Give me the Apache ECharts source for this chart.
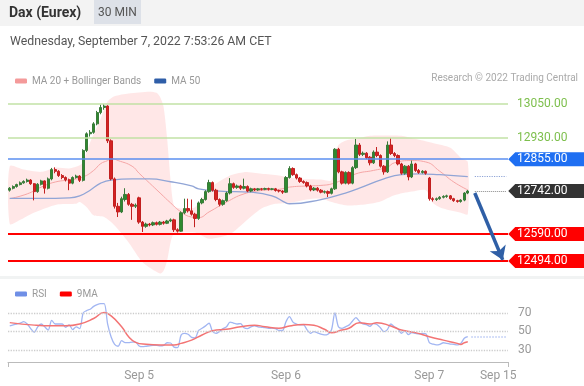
<!DOCTYPE html>
<html><head><meta charset="utf-8">
<script src="https://cdn.jsdelivr.net/npm/echarts@6/dist/echarts.min.js"></script>
<style>html,body{margin:0;padding:0;background:#fff}#c{width:584px;height:386px}</style>
</head><body><div id="c"></div>
<script>
// ---- data ----
const tickIndex = [37, 79, 120, 142];
const tickLabels = ['Sep 5', 'Sep 6', 'Sep 7', 'Sep 15'];
// [open, close, low, high]
const candles = [
[12745,12752,12740,12756],[12752,12758,12748,12762],[12758,12765,12754,12768],[12765,12771,12762,12776],
[12771,12776,12768,12780],[12776,12781,12772,12786],[12781,12768,12764,12784],[12768,12740,12709,12770],
[12740,12766,12736,12770],[12766,12778,12762,12782],[12778,12752,12733,12780],[12752,12785,12748,12790],
[12785,12818,12780,12824],[12818,12812,12805,12826],[12812,12797,12792,12816],[12797,12790,12784,12802],
[12790,12782,12776,12794],[12782,12770,12745,12786],[12770,12790,12766,12794],[12790,12795,12786,12800],
[12795,12780,12774,12798],[12780,12886,12776,12890],[12886,12945,12880,12950],[12945,12950,12935,12958],
[12950,12980,12945,12986],[12980,13020,12975,13026],[13020,13038,13014,13048],[13038,13043,13030,13050],
[13043,12920,12912,13046],[12920,12785,12780,12925],[12785,12688,12680,12790],[12688,12668,12650,12700],
[12668,12715,12664,12722],[12712,12730,12705,12752],[12730,12695,12690,12735],[12695,12688,12640,12700],
[12688,12692,12682,12698],[12718,12632,12626,12722],[12632,12617,12597,12636],[12617,12625,12612,12630],
[12625,12622,12617,12629],[12622,12630,12618,12634],[12630,12624,12620,12634],[12624,12632,12620,12636],
[12632,12628,12623,12636],[12628,12636,12625,12640],[12636,12640,12632,12645],[12640,12605,12597,12644],
[12605,12600,12595,12610],[12600,12665,12598,12670],[12665,12680,12660,12715],[12680,12672,12666,12715],
[12672,12660,12655,12712],[12660,12645,12614,12665],[12645,12700,12640,12705],[12700,12712,12695,12718],
[12712,12740,12708,12745],[12740,12772,12736,12782],[12772,12745,12740,12776],[12745,12712,12706,12750],
[12712,12695,12688,12716],[12695,12708,12690,12712],[12708,12735,12704,12740],[12735,12768,12730,12788],
[12768,12755,12750,12772],[12755,12760,12750,12765],[12760,12752,12746,12764],[12752,12758,12748,12786],
[12758,12742,12738,12762],[12742,12750,12738,12754],[12750,12746,12742,12753],[12746,12750,12743,12753],
[12750,12748,12744,12753],[12748,12751,12745,12754],[12751,12748,12744,12754],[12748,12750,12745,12753],
[12750,12744,12740,12753],[12744,12742,12737,12747],[12742,12738,12732,12745],[12738,12790,12735,12795],
[12790,12822,12786,12830],[12822,12800,12796,12826],[12800,12788,12783,12804],[12788,12776,12771,12792],
[12776,12772,12768,12780],[12772,12760,12755,12776],[12760,12746,12741,12764],[12746,12752,12742,12756],
[12752,12745,12740,12756],[12745,12738,12734,12749],[12738,12740,12733,12744],[12740,12734,12721,12744],
[12734,12750,12730,12754],[12750,12890,12746,12894],[12890,12810,12805,12895],[12810,12770,12765,12814],
[12770,12808,12766,12812],[12808,12770,12765,12812],[12770,12825,12766,12830],[12825,12905,12820,12927],
[12905,12872,12866,12912],[12872,12876,12866,12882],[12876,12860,12855,12880],[12862,12842,12833,12866],
[12842,12880,12838,12886],[12880,12868,12862,12898],[12868,12830,12825,12872],[12830,12810,12800,12834],
[12810,12905,12806,12918],[12905,12875,12870,12930],[12875,12868,12862,12880],[12868,12838,12833,12872],
[12838,12805,12800,12842],[12805,12830,12800,12834],[12830,12792,12780,12834],[12792,12838,12788,12850],
[12838,12815,12810,12842],[12815,12808,12803,12820],[12808,12812,12804,12816],[12812,12805,12800,12815],
[12788,12715,12708,12792],[12715,12712,12705,12720],[12712,12715,12707,12719],[12715,12720,12711,12724],
[12720,12723,12716,12727],[12723,12725,12718,12729],[12725,12715,12711,12728],[12715,12708,12704,12718],
[12708,12705,12701,12711],[12705,12710,12701,12713],[12710,12735,12706,12738],[12735,12742,12731,12746]
];
const padCount = 11;
// [candle index, value]
const bbUpper = [[0,12830],[4,12818],[9,12810],[13,12825],[17,12822],[20,12833],[21,12845],[23,12915],[26,12998],
[28,13060],[30,13078],[34,13088],[40,13094],[42,13090],[43,13075],[44,13040],[45,12930],[46,12780],[47,12690],
[49,12680],[53,12685],[57,12750],[63,12797],[67,12809],[72,12803],[77,12797],[80,12790],[83,12785],[89,12783],
[92,12780],[93,12870],[94,12905],[96,12920],[99,12927],[103,12938],[107,12939],[112,12938],[116,12927],
[121,12912],[126,12895],[129,12860],[131,12845]];
const bbLower = [[0,12625],[3,12640],[6,12660],[10,12680],[14,12695],[19,12697],[20,12703],[22,12685],[24,12656],
[27,12650],[30,12620],[34,12560],[38,12490],[43,12450],[44,12460],[45,12495],[46,12560],[47,12590],[53,12595],
[57,12573],[63,12590],[67,12630],[72,12680],[76,12697],[80,12700],[85,12712],[89,12715],[93,12700],[97,12691],
[102,12695],[106,12705],[110,12727],[115,12740],[119,12745],[121,12700],[124,12680],[129,12665],[131,12660]];
const ma20 = [[0,12715],[5,12732],[9,12756],[13,12774],[18,12783],[21,12792],[24,12815],[26,12839],[28,12850],
[29,12857],[31,12850],[35,12830],[37,12805],[40,12770],[43,12735],[46,12700],[49,12668],[52,12650],[54,12648],
[57,12668],[62,12703],[67,12732],[72,12744],[77,12748],[80,12756],[85,12760],[89,12762],[93,12771],[99,12803],
[104,12815],[108,12827],[110,12842],[115,12850],[119,12845],[123,12812],[127,12774],[131,12746]];
const ma50 = [[0,12716],[9,12716],[17,12718],[20,12725],[23,12745],[26,12770],[29,12781],[35,12785],[40,12785],
[46,12775],[52,12760],[54,12750],[60,12742],[69,12738],[75,12725],[79,12700],[80,12697],[89,12712],[96,12735],
[100,12752],[107,12785],[112,12800],[117,12803],[123,12800],[131,12793]];
const rsi = [56,57,58,59,60.5,58,53,49,55,58,55,51.5,62,58,58,58,54.5,57,52,55,53,70,72.5,74,77,79,80,80,58,44,
36,34,40,38,38,38.5,38.5,34.3,33.5,34,34.5,35,35,34.5,35,37.8,37.5,33,32.5,46,48,47,43.6,43,51,53.4,56,58.8,50,48,
50,53,55,60,59,58,58.5,54,53,55,56,55,54.5,54,53.4,53.5,53,51,51,60.5,66,60,58,57,57,52,48,49.7,48.5,47,46.2,47,
51.5,70,55,53.4,55,56.8,61,65,61,58,57.4,55.5,58.5,57.5,54,49.7,52,58,55,53,48,50.8,46.5,48.7,48,47.3,48,47.5,
38,36.4,35.4,36,37.8,37,36.4,36,35.4,37,42.6,44.3];
const rsiMA = [[0,59.5],[7,56.8],[12,56],[16,56],[20,58],[24,64],[27,70.3],[29,66.7],[32,55],[34,44.3],[36,38.2],
[39,36.1],[43,35.4],[47,35.4],[49,37.1],[52,40.6],[55,46.2],[58,50.8],[62,52.3],[66,55],[70,56.8],[73,55],[77,53.4],
[80,55.9],[84,57.6],[87,56.6],[90,52.3],[92,48.7],[95,51.5],[97,53.4],[100,59.4],[103,58],[105,59.4],[109,55.9],
[112,51.5],[116,48.7],[120,44.3],[124,40.6],[128,37.1],[129,36],[130,37.8],[131,38.9]];
const resistanceLevels = [13050, 12930];
const pivotLevel = [12855];
const lastPrice = [12742];
const supportLevels = [12590, 12494];
const rsiLevels = [70, 50, 30];
const targetLevel = 12494;

// ---- chart ----
const N = candles.length + padCount;
const categories = Array.from({length: N}, (_, i) => String(i));
const lastCat = categories[N - 1];
const lastIdx = candles.length - 1;
const lastRsi = rsi[lastIdx];
const lastMa50 = ma50[ma50.length - 1][1];

const FONT = 'Roboto, "Liberation Sans", sans-serif';
const tagPath = 'path://M0,7L7,0L76,0L76,14L7,14Z';
function tag(v, bg, fg) {
  return {
    coord: [lastCat, v], value: v,
    symbol: bg ? tagPath : 'rect', symbolSize: [76, 14], symbolOffset: [40, 0],
    itemStyle: {color: bg || 'rgba(0,0,0,0)'},
    label: {show: true, position: 'inside', offset: [-4, 0], color: fg, fontSize: 12, fontFamily: FONT,
      formatter: p => Number(p.value).toFixed(2)}
  };
}
const tags = []
  .concat(resistanceLevels.map(v => tag(v, null, '#7dbf4c')))
  .concat(pivotLevel.map(v => tag(v, '#1f6ff2', '#fff')))
  .concat(lastPrice.map(v => tag(v, '#333333', '#fff')))
  .concat(supportLevels.map(v => tag(v, '#ff0000', '#fff')));

const levelLines = []
  .concat(resistanceLevels.map(v => ({yAxis: v, lineStyle: {color: '#c2e2a6', width: 1.5, type: 'solid'}})))
  .concat(pivotLevel.map(v => ({yAxis: v, lineStyle: {color: '#5b8ff0', width: 1.5, type: 'solid'}})))
  .concat(supportLevels.map(v => ({yAxis: v, lineStyle: {color: '#ff0000', width: 2, type: 'solid'}})));

const extLines = [
  [{coord: [String(lastIdx + 2), lastPrice[0]]}, {coord: [lastCat, lastPrice[0]], lineStyle: {color: '#888', type: 'dotted', width: 1}}],
  [{coord: [String(lastIdx + 2), lastMa50]}, {coord: [lastCat, lastMa50], lineStyle: {color: '#8fa4d6', type: 'dotted', width: 1.2}}],
  [{coord: [String(lastIdx + 2), lastPrice[0] - 7], symbol: 'none'},
   {coord: [String(N - 2), targetLevel + 4], symbol: 'arrow', symbolSize: 13,
    lineStyle: {color: '#2f5fa6', width: 3.5, type: 'solid'}}]
];

const option = {
  animation: false,
  textStyle: {fontFamily: FONT},
  graphic: [
    {type: 'rect', shape: {x: 0, y: 0, width: 584, height: 26}, style: {fill: '#f3f3f3'}},
    {type: 'rect', shape: {x: 94, y: 0, width: 47, height: 24}, style: {fill: '#dde1e8'}},
    {type: 'text', style: {x: 9, y: 13, text: 'Dax (Eurex)', font: 'bold 14px ' + FONT, fill: '#333', verticalAlign: 'middle'}},
    {type: 'text', style: {x: 117.5, y: 12.5, text: '30 MIN', font: '12px ' + FONT, fill: '#555', align: 'center', verticalAlign: 'middle'}},
    {type: 'text', style: {x: 10, y: 42, text: 'Wednesday, September 7, 2022 7:53:26 AM CET', font: '12.3px ' + FONT, fill: '#555', verticalAlign: 'middle'}},
    {type: 'text', style: {x: 578, y: 78, text: 'Research © 2022 Trading Central', font: '10px ' + FONT, fill: '#aaa', align: 'right', verticalAlign: 'middle'}},
    {type: 'rect', shape: {x: 0, y: 276, width: 584, height: 3}, style: {fill: '#f1f3f3'}}
  ],
  legend: [
    {left: 10, top: 71, itemWidth: 12, itemHeight: 5, itemGap: 13, icon: 'roundRect',
     textStyle: {color: '#999', fontSize: 10, fontFamily: FONT},
     data: [{name: 'MA 20 + Bollinger Bands', itemStyle: {color: '#f49a9a'}}, {name: 'MA 50', itemStyle: {color: '#2f5ea8'}}]},
    {left: 10, top: 284, itemWidth: 12, itemHeight: 5, itemGap: 13, icon: 'roundRect',
     textStyle: {color: '#999', fontSize: 10, fontFamily: FONT},
     data: [{name: 'RSI', itemStyle: {color: '#6f8fe6'}}, {name: '9MA', itemStyle: {color: '#ff0000'}}]}
  ],
  grid: [
    {left: 8, right: 76, top: 90, height: 188},
    {left: 8, right: 76, top: 299, height: 63}
  ],
  xAxis: [
    {type: 'category', gridIndex: 0, data: categories, boundaryGap: true, show: false},
    {type: 'category', gridIndex: 1, data: categories, boundaryGap: true,
     axisLine: {show: true, lineStyle: {color: '#bbb', width: 1}},
     axisTick: {show: true, interval: i => i === 0, length: 5, lineStyle: {color: '#bbb'}},
     axisLabel: {show: true, color: '#999', fontSize: 12, margin: 8, fontFamily: FONT,
       interval: i => tickIndex.includes(i),
       formatter: (v, i) => {
         const k = tickIndex.indexOf(i);
         if (k < 0) return '';
         return k === tickIndex.length - 1 ? '{r|' + tickLabels[k] + '}' : tickLabels[k];
       },
       rich: {r: {color: '#999', fontSize: 12, fontFamily: FONT, padding: [0, 16, 0, 0]}}}}
  ],
  yAxis: [
    {type: 'value', gridIndex: 0, min: 12434, max: 13100, show: false, splitLine: {show: false}},
    {type: 'value', gridIndex: 1, min: 17, max: 85, show: false, splitLine: {show: false}}
  ],
  series: [
    {type: 'custom', name: 'band', xAxisIndex: 0, yAxisIndex: 0, z: 1, silent: true, clip: true,
     data: [[0, bbUpper[0][1]]],
     renderItem: (params, api) => {
       const pts = bbUpper.map(p => api.coord([p[0], p[1]]))
         .concat(bbLower.slice().reverse().map(p => api.coord([p[0], p[1]])));
       return {type: 'polygon', shape: {points: pts, smooth: 0.25}, style: {fill: 'rgba(255,170,170,0.28)', stroke: 'none'}};
     }},
    {type: 'line', name: 'MA 20 + Bollinger Bands', xAxisIndex: 0, yAxisIndex: 0, data: ma20, smooth: true,
     symbol: 'none', lineStyle: {color: '#f5a5a5', width: 1}, itemStyle: {color: '#f49a9a'}, z: 2},
    {type: 'line', name: 'MA 50', xAxisIndex: 0, yAxisIndex: 0, data: ma50, smooth: true,
     symbol: 'none', lineStyle: {color: '#91a5d6', width: 1.3}, itemStyle: {color: '#2f5ea8'}, z: 2},
    {type: 'candlestick', name: 'price', xAxisIndex: 0, yAxisIndex: 0, data: candles, barWidth: 2.8, z: 3,
     itemStyle: {color: '#2f8a2f', color0: '#d42222', borderColor: '#3a7a3a', borderColor0: '#c22020', borderWidth: 1},
     markLine: {silent: true, symbol: 'none', animation: false, label: {show: false}, data: levelLines.concat(extLines)},
     markPoint: {silent: true, animation: false, data: tags}},
    {type: 'line', name: 'RSI', xAxisIndex: 1, yAxisIndex: 1, data: rsi, smooth: 0.3, symbol: 'none',
     lineStyle: {color: '#a2b6f2', width: 1.3}, itemStyle: {color: '#6f8fe6'}, z: 3,
     markLine: {silent: true, symbol: 'none', animation: false,
       label: {show: true, position: 'end', distance: 10, color: '#999', fontSize: 12, fontFamily: FONT, formatter: '{c}'},
       lineStyle: {color: '#ccc', type: 'dotted', width: 1.3},
       data: rsiLevels.map(v => ({yAxis: v})).concat([
         [{coord: [String(lastIdx + 1), lastRsi], label: {show: false}},
          {coord: [lastCat, lastRsi], lineStyle: {color: '#b8c7f4', type: 'dotted', width: 1.5}}]
       ])}},
    {type: 'line', name: '9MA', xAxisIndex: 1, yAxisIndex: 1, data: rsiMA, smooth: true, symbol: 'none',
     lineStyle: {color: '#f37474', width: 1.5}, itemStyle: {color: '#ff0000'}, z: 4}
  ]
};
const chart = echarts.init(document.getElementById('c'), null, {renderer: 'canvas'});
chart.setOption(option);
</script></body></html>
